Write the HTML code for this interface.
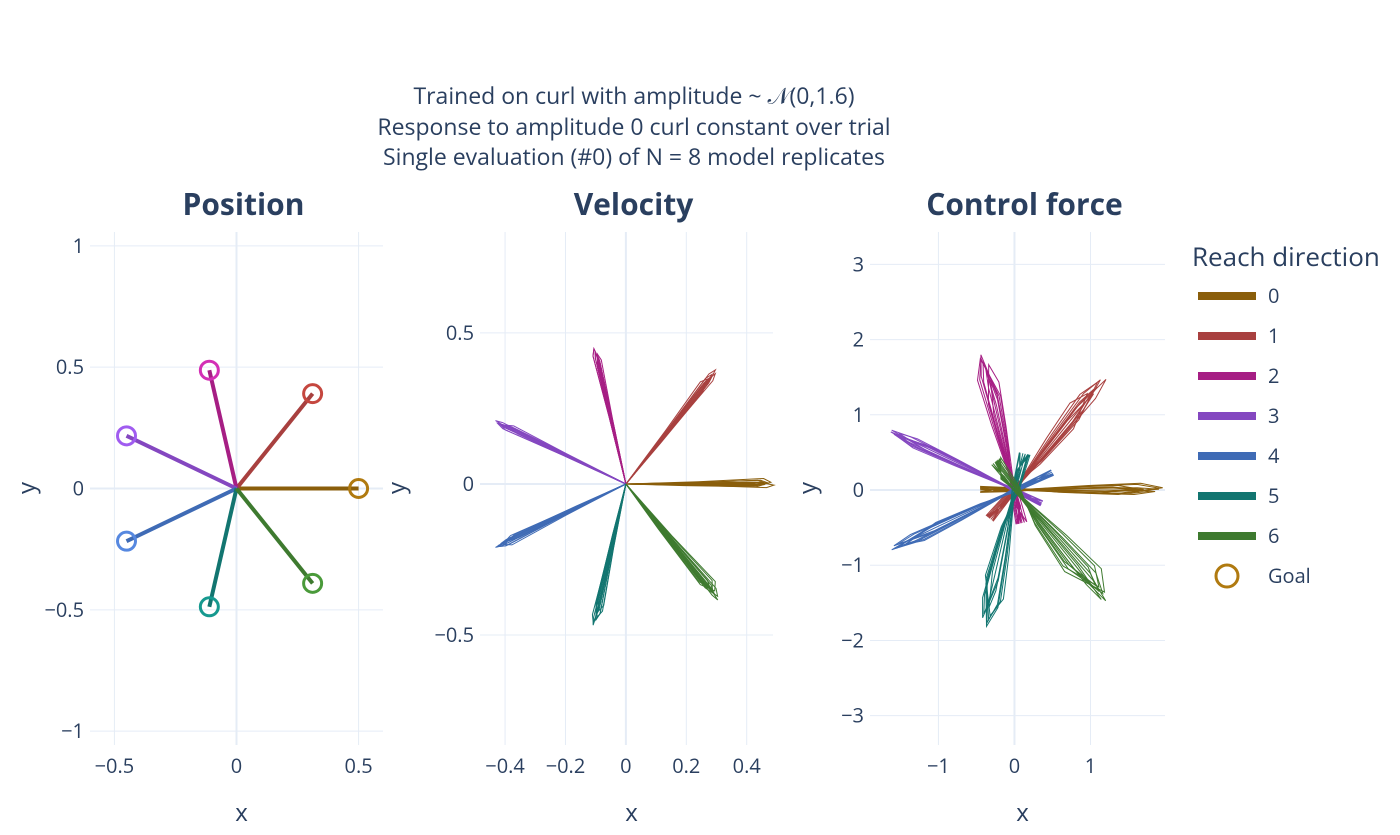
<!DOCTYPE html>
<html><head><meta charset="utf-8"><style>
body{margin:0;background:#fff;}
svg text{font-family:"Open Sans","Liberation Sans",sans-serif;fill:#2a3f5f;}
</style></head><body>
<svg id="chart" width="1400" height="830" xmlns="http://www.w3.org/2000/svg">
<rect width="1400" height="830" fill="#fff"/>
<g font-size="23" text-anchor="middle">
<text x="634" y="104">Trained on curl with amplitude ~ 𝒩(0,1.6)</text>
<text x="634" y="135">Response to amplitude 0 curl constant over trial</text>
<text x="634" y="165">Single evaluation (#0) of N = 8 model replicates</text>
</g>
<g id="plots"></g>
<g id="legend"></g>
</svg>
<script>
const directions=[0,1,2,3,4,5,6];
const lineColors=["#8a5e0b","#a8403f","#a61e84","#8447c0","#3f6bb5","#127570","#3e7a2f"];
const goalColors=["#b07a10","#c5473f","#d32fb5","#a05cf0","#5688e0","#16998f","#4a9a3a"];
const goalRadius=0.5;
const velPeak=[[0.47,0.46,0.48,0.45,0.49,0.46,0.47,0.44],[0.46,0.45,0.47,0.44,0.46,0.48,0.45,0.43],[0.45,0.44,0.46,0.43,0.45,0.44,0.46,0.42],[0.47,0.46,0.48,0.45,0.47,0.46,0.44,0.47],[0.47,0.46,0.48,0.45,0.47,0.44,0.46,0.47],[0.46,0.45,0.47,0.44,0.46,0.45,0.48,0.43],[0.48,0.46,0.49,0.45,0.47,0.44,0.46,0.45]];
const velOffset=[[0.012,-0.006,0.018,0.006,-0.012,0.012,0.006,0.0],[0.012,0.006,-0.012,0.018,0.0,0.012,-0.006,0.006],[0.006,-0.012,0.012,0.0,0.006,-0.006,0.012,0.0],[0.006,0.012,-0.006,0.0,0.012,0.006,-0.012,0.006],[0.012,-0.006,0.006,0.018,0.0,-0.012,0.006,0.012],[0.012,0.018,-0.012,0.006,0.012,0.0,-0.006,0.018],[0.018,0.012,-0.006,0.024,0.006,0.012,0.03,0.0]];
const forcePeak=[[1.9,1.8,1.95,1.7,1.85,1.6,1.9,1.75],[1.8,1.7,1.9,1.6,1.75,1.85,1.65,1.7],[1.85,1.7,1.8,1.6,1.75,1.5,1.8,1.65],[1.75,1.7,1.8,1.6,1.75,1.65,1.7,1.8],[1.75,1.7,1.8,1.6,1.65,1.75,1.7,1.6],[1.8,1.7,1.75,1.6,1.85,1.65,1.7,1.75],[1.8,1.75,1.85,1.7,1.9,1.65,1.8,1.6]];
const forceOffset=[[0.05,-0.03,0.06,0.02,-0.04,0.04,0.02,0.0],[0.08,0.03,-0.05,0.1,0.0,0.06,-0.03,0.04],[0.06,-0.08,0.1,0.0,0.05,-0.04,0.08,0.02],[0.03,0.05,-0.03,0.0,0.04,0.03,-0.04,0.02],[0.04,-0.03,0.03,0.06,0.0,-0.04,0.03,0.05],[0.08,0.12,-0.06,0.04,0.09,0.0,-0.05,0.1],[0.1,0.06,-0.03,0.13,0.04,0.08,0.16,0.0]];
const forceBrake=[0.45,0.5,0.45,0.4,0.55,0.5,0.45];
const panels=[
 {name:"position",title:"Position",x0:90,x1:383,y0:232,y1:745,xr:[-0.6,0.6],yr:[-1.057,1.057],xt:[-0.5,0,0.5],xl:["−0.5","0","0.5"],yt:[-1,-0.5,0,0.5,1],yl:["−1","−0.5","0","0.5","1"],yx:27},
 {name:"velocity",title:"Velocity",x0:480,x1:773,y0:232,y1:745,xr:[-0.483,0.487],yr:[-0.864,0.834],xt:[-0.4,-0.2,0,0.2,0.4],xl:["−0.4","−0.2","0","0.2","0.4"],yt:[-0.5,0,0.5],yl:["−0.5","0","0.5"],yx:397},
 {name:"control-force",title:"Control force",x0:870,x1:1165,y0:232,y1:745,xr:[-1.9,1.98],yr:[-3.39,3.43],xt:[-1,0,1],xl:["−1","0","1"],yt:[-3,-2,-1,0,1,2,3],yl:["−3","−2","−1","0","1","2","3"],yx:808}];
const NS="http://www.w3.org/2000/svg";
const root=document.getElementById('plots');
function mk(tag,attrs,parent){const e=document.createElementNS(NS,tag);for(const k in attrs)e.setAttribute(k,attrs[k]);parent.appendChild(e);return e;}
panels.forEach((p,pi)=>{
 const g=mk('g',{},root);
 
 
 const sx=v=>p.x0+(v-p.xr[0])/(p.xr[1]-p.xr[0])*(p.x1-p.x0);
 const sy=v=>p.y1-(v-p.yr[0])/(p.yr[1]-p.yr[0])*(p.y1-p.y0);
 p.xt.forEach((t,i)=>{
  const l=mk('line',{x1:sx(t),x2:sx(t),y1:p.y0,y2:p.y1,stroke:"#e5ecf6","stroke-width":t===0?2:1},g);
  
  const tx=mk('text',{x:sx(t),y:p.y1+28,"font-size":20,"text-anchor":"middle"},g);tx.textContent=p.xl[i];
  
 });
 p.yt.forEach((t,i)=>{
  const l=mk('line',{x1:p.x0,x2:p.x1,y1:sy(t),y2:sy(t),stroke:"#e5ecf6","stroke-width":t===0?2:1},g);
  
  const tx=mk('text',{x:p.x0-6,y:sy(t)+7,"font-size":20,"text-anchor":"end"},g);tx.textContent=p.yl[i];
  
 });
 const tt=mk('text',{x:(p.x0+p.x1)/2+7,y:215,"font-size":30,"font-weight":"bold","text-anchor":"middle"},g);tt.textContent=p.title;
 
 const xa=mk('text',{x:(p.x0+p.x1)/2+5,y:821,"font-size":24,"text-anchor":"middle"},g);xa.textContent="x";
 
 const ya=mk('text',{x:p.yx,y:488,"font-size":24,"text-anchor":"middle",transform:`rotate(-90 ${p.yx} 488)`,dy:8},g);ya.textContent="y";
 
 directions.forEach(d=>{
  const a=d*2*Math.PI/7, ux=Math.cos(a), uy=Math.sin(a), vx=-uy, vy=ux;
  const pt=(r,s)=>sx(r*ux+s*vx).toFixed(1)+","+sy(r*uy+s*vy).toFixed(1);
  if(pi===0){
   const l=mk('line',{x1:sx(0),y1:sy(0),x2:sx(goalRadius*ux),y2:sy(goalRadius*uy),stroke:lineColors[d],"stroke-width":4},g);
   
   const c=mk('circle',{cx:sx(goalRadius*ux),cy:sy(goalRadius*uy),r:9,fill:"none",stroke:goalColors[d],"stroke-width":3},g);
   
  } else if(pi===1){
   velPeak[d].forEach((pk,k)=>{
    const o=velOffset[d][k];
    const pts=[pt(0,0),pt(pk*0.5,o*0.4),pt(pk*0.95,o),pt(pk,o*0.3),pt(pk*0.9,-o*0.5),pt(pk*0.4,-o*0.3),pt(0,0)].join(" ");
    const pl=mk('polyline',{points:pts,fill:"none",stroke:lineColors[d],"stroke-width":1},g);
    
   });
  } else {
   forcePeak[d].forEach((pk,k)=>{
    const o=forceOffset[d][k], b=forceBrake[d];
    const pts=[pt(0,0),pt(pk*0.5,o),pt(pk*0.85,o*1.5),pt(pk,o*0.5),pt(pk*0.7,-o),pt(pk*0.3,-o*0.5),pt(0,o*0.5),pt(-b,o*0.8),pt(-b*0.5,-o*0.3),pt(0,0)].join(" ");
    const pl=mk('polyline',{points:pts,fill:"none",stroke:lineColors[d],"stroke-width":1},g);
    
   });
  }
 });
});
const lg=document.getElementById('legend');
const lt=mk('text',{x:1192,y:266,"font-size":26},lg);lt.textContent="Reach direction";

directions.forEach(d=>{
 const y=296+d*40;
 const e=mk('g',{},lg);
 
 mk('line',{x1:1198,x2:1256,y1:y,y2:y,stroke:lineColors[d],"stroke-width":8},e);
 const t=mk('text',{x:1268,y:y+7,"font-size":20},e);t.textContent=String(d);
});
const ge=mk('g',{},lg);

mk('circle',{cx:1227,cy:576,r:11,fill:"none",stroke:"#b07a10","stroke-width":3},ge);
const gt=mk('text',{x:1268,y:583,"font-size":20},ge);gt.textContent="Goal";
</script>
</body></html>
